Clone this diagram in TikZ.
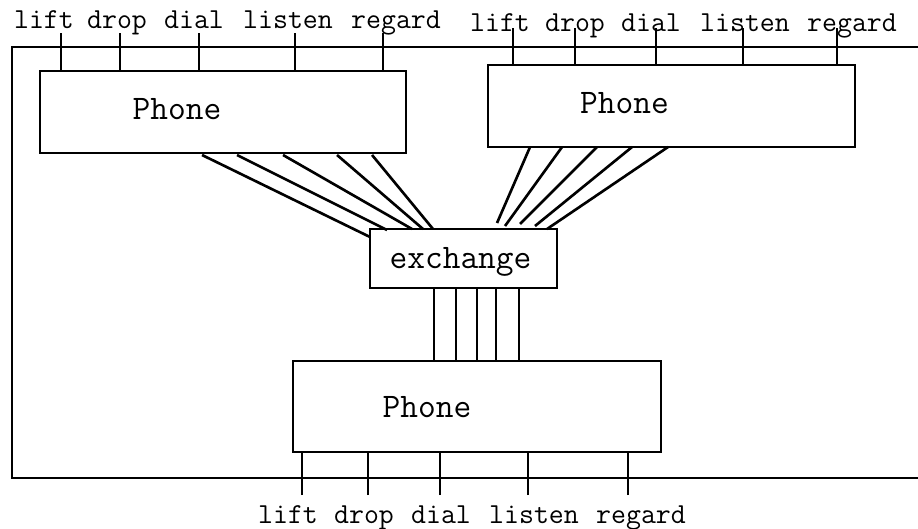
\documentclass[tikz,border=0pt]{standalone}
\usetikzlibrary{calc}

\tikzset{
  box/.style={draw,rectangle,outer sep=0pt,inner sep=0pt},
  boxtext/.style={font=\ttfamily\fontsize{19.6}{22}\selectfont},
  sig/.style={font=\ttfamily\fontsize{16.5}{19}\selectfont,inner sep=0pt,anchor=base},
}

\begin{document}
\begin{tikzpicture}[x=0.02cm,y=-0.02cm,line width=1.5pt]
          \useasboundingbox (0,0) rectangle (918,528);
          %\draw[very thin,lightgray] (0,0) grid[step=50] (918,528);
          % frame, open to the right
          \draw (918,47)--(12,47)--(12,478)--(918,478);
          % the three phones and the exchange
          \node[box,minimum width=7.32cm,minimum height=1.64cm] (p1) at (223,112) {};
          \node[box,minimum width=7.34cm,minimum height=1.64cm] (p2) at (671.5,106) {};
          \node[box,minimum width=7.36cm,minimum height=1.82cm] (p3) at (477,406.5) {};
          \node[box,minimum width=3.74cm,minimum height=1.18cm] (ex) at (463.5,258.5) {};
          \node[boxtext,inner sep=0pt] (exname) at ($(ex.center)+(-3,3)$) {exchange};
          \node[boxtext,inner sep=0pt] (p1name) at ($(p1.center)+(-46,-3)$) {Phone};
          \node[boxtext,inner sep=0pt] (p2name) at ($(p2.center)+(-47,-3)$) {Phone};
          \node[boxtext,inner sep=0pt] (p3name) at ($(p3.center)+(-50,1)$) {Phone};
          % signal names
          \foreach \s/\x in {lift/44,drop/117,dial/194,listen/288,regard/396}
            \node[sig] (a\s) at (\x,28) {\s};
          \foreach \s/\x in {lift/500,drop/575,dial/651,listen/745,regard/852}
            \node[sig] (b\s) at (\x,31) {\s};
          \foreach \s/\x in {lift/288,drop/364,dial/441,listen/534,regard/641}
            \node[sig] (c\s) at (\x,523) {\s};
          % ticks
          \foreach \d [count=\i] in {21,80,159,255,343}{
            \coordinate (ta\i) at ($(p1.north west)+(\d,-38)$);
            \draw (ta\i)--(ta\i |- p1.north);
          }
          \foreach \d [count=\i] in {25,87,168,255,349}{
            \coordinate (tb\i) at ($(p2.north west)+(\d,-37)$);
            \draw (tb\i)--(tb\i |- p2.north);
          }
          \foreach \d [count=\i] in {9,75,147,235,335}{
            \coordinate (tc\i) at ($(p3.south west)+(\d,43)$);
            \draw (tc\i)--(tc\i |- p3.south);
          }
          % lines to the exchange
          \foreach \a/\b/\c in {162/0/8,197/17/1,243/42/0,297/53/0,332/63/0}
            \draw ($(p1.south west)+(\a,2)$)--($(ex.north west)+(\b,\c)$);
          \foreach \a/\b/\c in {42/127/-6,74/135/-3,109/150/-5,144/165/-3,180/177/0}
            \draw ($(p2.south west)+(\a,0)$)--($(ex.north west)+(\b,\c)$);
          \foreach \a [count=\i] in {64,86,107,126,149}{
            \coordinate (v\i) at ($(ex.south west)+(\a,0)$);
            \draw (v\i)--(v\i |- p3.north);
          }
        \end{tikzpicture}
\end{document}
